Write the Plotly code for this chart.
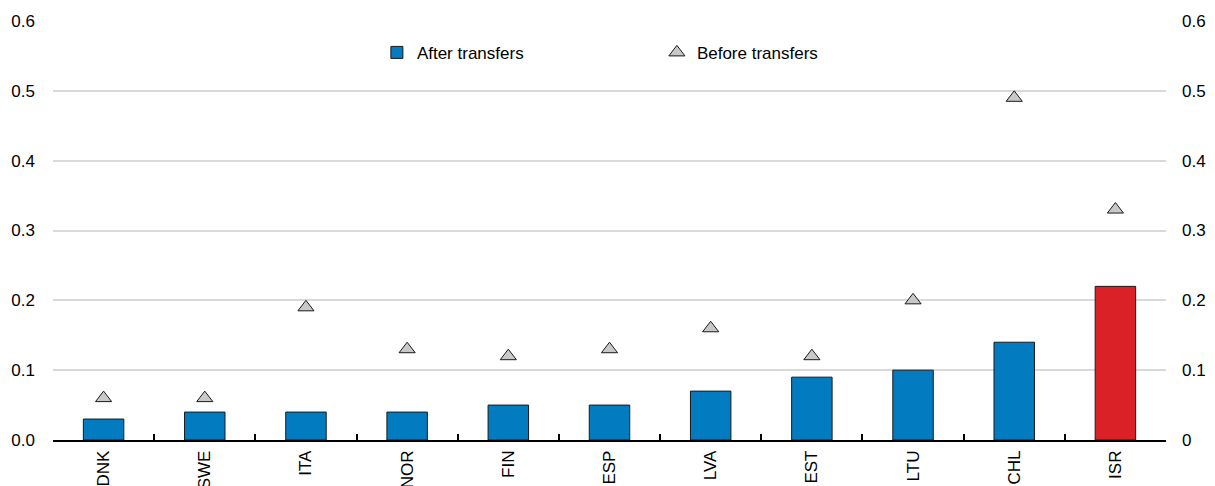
import plotly.graph_objects as go

countries = ["DNK", "SWE", "ITA", "NOR", "FIN", "ESP", "LVA", "EST", "LTU", "CHL", "ISR"]
after_transfers = [0.03, 0.04, 0.04, 0.04, 0.05, 0.05, 0.07, 0.09, 0.10, 0.14, 0.22]
before_transfers = [0.06, 0.06, 0.19, 0.13, 0.12, 0.13, 0.16, 0.12, 0.20, 0.49, 0.33]
highlight = "ISR"

left_ticks = [0, 0.1, 0.2, 0.3, 0.4, 0.5, 0.6]
left_ticktext = ["0.0", "0.1", "0.2", "0.3", "0.4", "0.5", "0.6"]
right_ticktext = ["0", "0.1", "0.2", "0.3", "0.4", "0.5", "0.6"]

BLUE = "#037BC1"
RED = "#DA2128"
FONT = "Liberation Sans Narrow, Arial Narrow, Liberation Sans, Arial, sans-serif"

bar_colors = [RED if c == highlight else BLUE for c in countries]

fig = go.Figure()
fig.add_trace(go.Bar(
    x=countries, y=after_transfers, name="After transfers",
    marker=dict(color=bar_colors, line=dict(color="#1a1a1a", width=1)),
    width=0.4,
))
fig.add_trace(go.Scatter(
    x=countries, y=before_transfers, name="Before transfers", mode="markers",
    yaxis="y2",
    marker=dict(symbol="triangle-up", size=14, color="#C8C8C8",
                line=dict(color="#1a1a1a", width=1)),
))

fig.update_layout(
    width=1207, height=478,
    margin=dict(l=45, r=49, t=13, b=46),
    plot_bgcolor="white", paper_bgcolor="white",
    font=dict(family=FONT, size=17, color="#000"),
    bargap=0.6,
    showlegend=True,
    legend=dict(orientation="h", x=0.291, y=0.924, xanchor="left", yanchor="middle",
                entrywidth=235, entrywidthmode="pixels",
                font=dict(family=FONT, size=17), bgcolor="rgba(0,0,0,0)"),
    xaxis=dict(
        type="category", tickangle=-90, automargin=False,
        range=[-0.5, len(countries) - 0.5],
        showline=True, linecolor="#000", linewidth=1.5,
        ticks="inside", tickson="boundaries", ticklen=6, tickcolor="#000", tickwidth=1.5,
        showgrid=False, ticklabelstandoff=2,
    ),
    yaxis=dict(
        range=[0, 0.6], tickvals=left_ticks, ticktext=left_ticktext,
        showgrid=True, gridcolor="#D9D9D9", gridwidth=1.5,
        zeroline=False, showline=False, ticks="", automargin=False,
        ticklabelstandoff=17,
    ),
    yaxis2=dict(
        range=[0, 0.6], overlaying="y", side="right",
        tickvals=left_ticks, ticktext=right_ticktext,
        showgrid=False, zeroline=False, showline=False, ticks="", automargin=False,
        ticklabelstandoff=15,
    ),
)

fig.write_html("out.html")
